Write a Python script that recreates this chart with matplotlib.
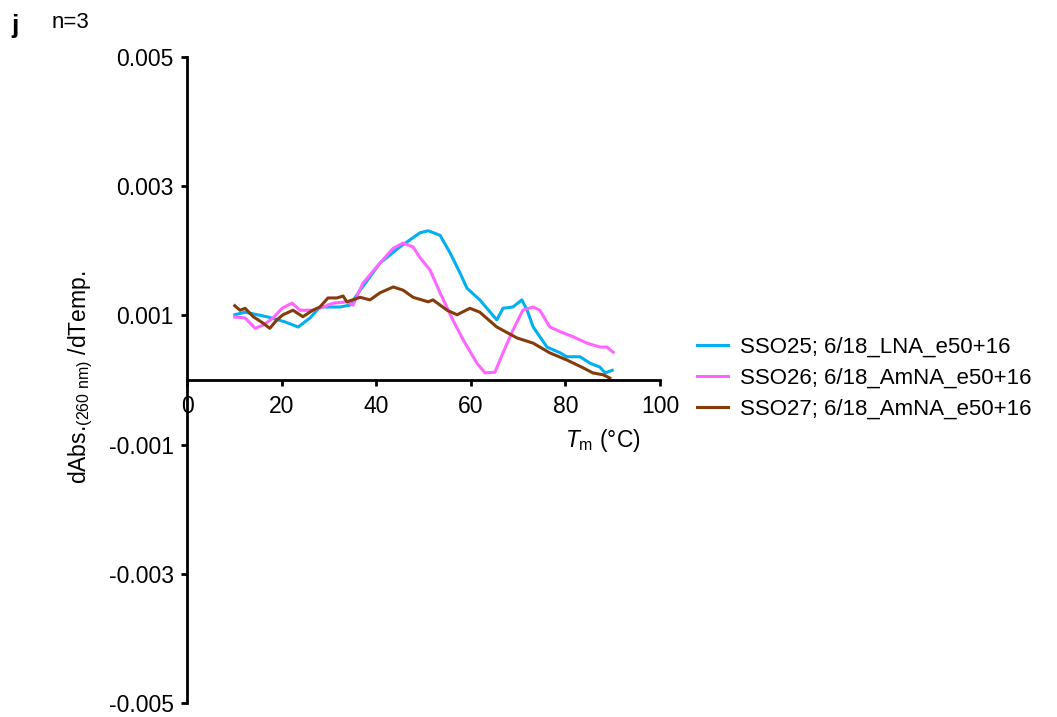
import matplotlib
matplotlib.use("Agg")
import matplotlib.pyplot as plt

plt.rcParams['font.family'] = ['Liberation Sans', 'DejaVu Sans']
plt.rcParams['mathtext.fontset'] = 'custom'
plt.rcParams['mathtext.rm'] = 'Liberation Sans'
plt.rcParams['mathtext.it'] = 'Liberation Sans:italic'

# SSO25 (LNA)
t25 = [10.1, 12.3, 17.1, 20.7, 23.5, 26.0, 28.1, 32.3, 34.5, 36.6, 40.8, 45.0, 49.3, 51.0,
       53.5, 55.6, 57.7, 59.2, 61.9, 65.5, 66.8, 68.9, 70.8, 71.9, 73.2, 76.1, 78.9, 80.3,
       83.1, 85.2, 87.3, 88.4, 89.9]
d25 = [1.01, 1.05, 0.975, 0.90, 0.82, 0.96, 1.13, 1.13, 1.16, 1.39, 1.81, 2.06, 2.28, 2.31,
       2.24, 1.97, 1.66, 1.42, 1.24, 0.93, 1.11, 1.13, 1.24, 1.08, 0.82, 0.51, 0.42, 0.36,
       0.36, 0.26, 0.20, 0.11, 0.15]

# SSO26 (AmNA)
t26 = [10.1, 12.3, 14.4, 16.1, 18.2, 20.1, 22.2, 23.9, 26.6, 28.8, 30.9, 33.8, 35.1, 37.2,
       40.8, 43.6, 45.7, 47.8, 49.3, 51.4, 53.5, 56.2, 58.4, 61.3, 63.0, 65.1, 66.8, 68.9,
       71.0, 73.2, 74.6, 76.7, 79.5, 81.6, 84.6, 87.3, 88.8, 90.1]
d26 = [0.975, 0.96, 0.80, 0.85, 0.96, 1.11, 1.19, 1.08, 1.08, 1.13, 1.19, 1.21, 1.16, 1.50,
       1.81, 2.04, 2.12, 2.06, 1.89, 1.70, 1.35, 0.93, 0.62, 0.26, 0.11, 0.12, 0.42, 0.77,
       1.08, 1.13, 1.08, 0.82, 0.73, 0.67, 0.57, 0.51, 0.51, 0.43]

# SSO27 (AmNA)
t27 = [10.1, 11.2, 12.3, 14.0, 16.1, 17.5, 19.0, 20.3, 22.4, 24.5, 26.6, 28.1, 29.8, 31.7,
       33.0, 33.8, 36.6, 38.7, 40.8, 43.6, 45.7, 47.8, 51.0, 52.0, 55.0, 57.1, 59.8, 61.9,
       65.5, 69.8, 73.2, 76.7, 80.3, 83.7, 85.8, 88.0, 89.4]
d27 = [1.15, 1.08, 1.11, 0.98, 0.88, 0.80, 0.93, 1.01, 1.08, 0.98, 1.08, 1.13, 1.27, 1.27,
       1.30, 1.21, 1.28, 1.24, 1.35, 1.44, 1.39, 1.28, 1.21, 1.24, 1.08, 1.01, 1.11, 1.05,
       0.82, 0.65, 0.57, 0.42, 0.31, 0.19, 0.11, 0.08, 0.03]

labels = ["SSO25; 6/18_LNA_e50+16", "SSO26; 6/18_AmNA_e50+16", "SSO27; 6/18_AmNA_e50+16"]
colors = ["#00B0F0", "#FF66FF", "#843C0C"]
xticks = [0, 20, 40, 60, 80, 100]
yticks = [-0.005, -0.003, -0.001, 0.001, 0.003, 0.005]

fig = plt.figure(figsize=(10.57, 7.17), dpi=100)
W, H = 1057, 717
ax = fig.add_axes([187 / W, 14 / H, (660 - 187) / W, (703 - 57) / H])

for t, d, c, lab in zip([t25, t26, t27], [d25, d26, d27], colors, labels):
    ax.plot(t, [v * 1e-3 for v in d], color=c, lw=2.2, label=lab)

ax.set_xlim(0, 100)
ax.set_ylim(-0.005, 0.005)
ax.spines['left'].set_position(('data', 0))
ax.spines['bottom'].set_position(('data', 0))
ax.spines['right'].set_visible(False)
ax.spines['top'].set_visible(False)
for s in ['left', 'bottom']:
    ax.spines[s].set_linewidth(2.0)
ax.set_xticks(xticks)
ax.set_xticklabels([str(v) for v in xticks])
ax.set_yticks(yticks)
ax.set_yticklabels([f"{v:.3f}" for v in yticks])
ax.tick_params(direction='out', length=4.5, width=2.0, labelsize=16.5, pad=5)
ax.tick_params(axis='x', pad=6)
ax.patch.set_visible(False)

fig.text(603 / W, 1 - 440 / H, r'$T_{\mathrm{m}}$ (°C)', fontsize=16.5, ha='center', va='center')
fig.text(81 / W, 1 - 377 / H, r'dAbs.$_{\mathrm{(260\ nm)}}$ /dTemp.', fontsize=16.5,
         rotation=90, ha='center', va='center')
fig.text(11 / W, 1 - 26 / H, 'j', fontsize=19, fontweight='bold', ha='left', va='center')
fig.text(52 / W, 1 - 22 / H, 'n=3', fontsize=16, ha='left', va='center')

fig.legend(loc='center left', bbox_to_anchor=(697 / W, 1 - 378 / H), frameon=False,
           fontsize=16, borderpad=0, borderaxespad=0, handlelength=1.4,
           handletextpad=0.55, labelspacing=0.45)

fig.savefig("out.png", dpi=100)
